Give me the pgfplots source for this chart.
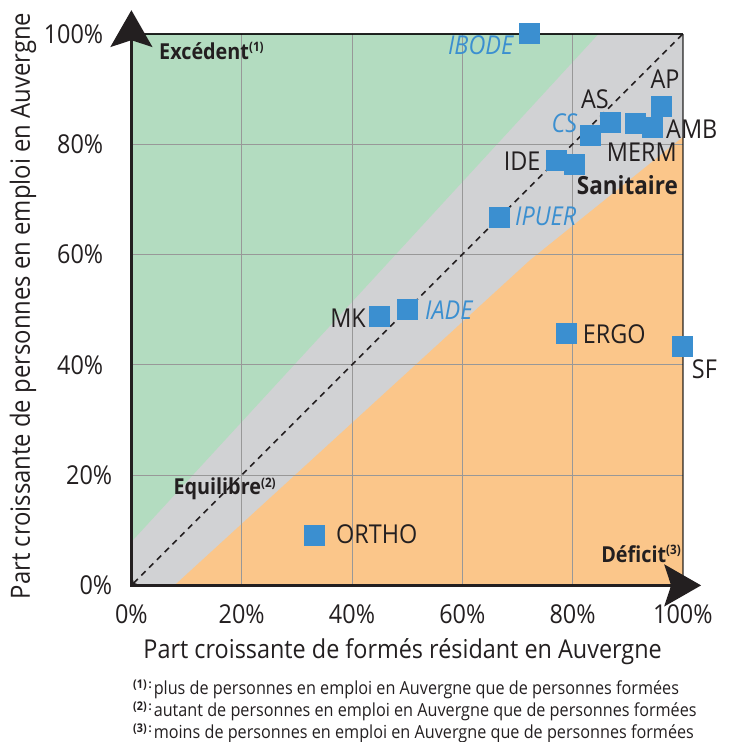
\documentclass[border=0pt]{standalone}
\usepackage{fontspec}
\setmainfont{Open Sans}[FakeStretch=0.9]
\usepackage{pgfplots}
\pgfplotsset{compat=1.18}
\usetikzlibrary{arrows.meta}
\definecolor{cgreen}{RGB}{179,220,192}
\definecolor{cgray}{RGB}{209,210,212}
\definecolor{corange}{RGB}{251,198,138}
\definecolor{cblue}{RGB}{59,143,208}
\definecolor{cgridc}{RGB}{152,152,152}
\definecolor{ctext}{RGB}{35,31,32}
\newcommand\fsz[1]{\fontsize{#1bp}{#1bp}\selectfont}
\begin{document}
\begin{tikzpicture}
\useasboundingbox (-131.4bp,-156.6bp) rectangle (597.6bp,585.4bp);
\begin{axis}[
  at={(0,0)}, anchor=south west,
  scale only axis, width=551.5bp, height=551.5bp,
  xmin=0, xmax=100, ymin=0, ymax=100,
  clip=false,
  axis line style={draw=none},
  major tick length=0pt, tick style={draw=none},
  xtick={0,20,40,60,80,100}, ytick={0,20,40,60,80,100},
  xticklabels={0\%,20\%,40\%,60\%,80\%,100\%},
  yticklabels={0\%\kern-9bp,20\%\kern-9bp,40\%,60\%,80\%,100\%},
  tick label style={font=\fsz{26}, text=ctext, inner sep=0pt},
  xticklabel style={anchor=center, yshift=-28.6bp},
  yticklabel style={anchor=east, xshift=-28bp},
]
% background regions
\addplot[draw=none, fill=cgray] coordinates {(0,0) (100,0) (100,100) (0,100)} -- cycle;
\addplot[draw=none, fill=cgreen] coordinates {(0,7.9) (84.7,100) (0,100)} -- cycle;
\addplot[draw=none, fill=corange] coordinates {(7.8,0) (72.3,59) (100,81.3) (100,0)} -- cycle;
% grid
\pgfplotsinvokeforeach{20,40,60,80}{
  \draw[cgridc, line width=1bp] (axis cs:#1,0) -- (axis cs:#1,100);
  \draw[cgridc, line width=1bp] (axis cs:0,#1) -- (axis cs:100,#1);
}
% frame top/right
\draw[black, opacity=0.85, line width=1.3bp] (axis cs:0,100) -- (axis cs:100,100);
\draw[black, opacity=0.55, line width=1.5bp] (axis cs:100,100) -- (axis cs:100,0);
% diagonal
\addplot[ctext, line width=1.6bp, dash pattern=on 6bp off 5bp, {Stealth[length=5bp,width=5bp]}-] coordinates {(0,0) (100,100)};
% axes with arrows
\draw[ctext, line width=3.5bp, {Stealth[length=36.7bp,width=41.7bp,inset=6.7bp]}-{Stealth[length=36.7bp,width=41.7bp,inset=6.7bp]}]
  (axis cs:103.3,0) -- (axis cs:0,0) -- (axis cs:0,104.3);
% points
\addplot[only marks, color=cblue, mark=square*, mark size=10bp, mark options={fill=cblue, draw=cblue, line width=0pt}] coordinates {
  (72.1,100.0) % IBODE
  (96.2,86.9)  % AP
  (86.8,84.0)  % AS
  (83.2,81.5)  % CS
  (91.4,83.7)  % MERM
  (94.5,83.1)  % AMB
  (77.1,77.1)  % IDE
  (80.4,76.3)  % Sanitaire
  (66.7,66.7)  % IPUER
  (44.9,48.7)  % MK
  (50.0,50.1)  % IADE
  (78.9,45.7)  % ERGO
  (100.0,43.4) % SF
  (33.2,9.1)   % ORTHO
};
\end{axis}
% point labels
\begin{scope}[every node/.style={inner sep=0pt, font=\fsz{26}, text=ctext}]
\node[anchor=east, text=cblue, font=\fsz{26}\itshape] at (381.9bp,540.1bp) {IBODE};
\node[anchor=center] at (533.6bp,506.4bp) {AP};
\node[anchor=center] at (463.6bp,485.7bp) {AS};
\node[anchor=east, text=cblue, font=\fsz{26}\itshape] at (445.9bp,462.4bp) {CS};
\node[anchor=east] at (409.3bp,424.1bp) {IDE};
\node[anchor=west] at (475.3bp,433.1bp) {MERM};
\node[anchor=west] at (534.6bp,456.1bp) {AMB};
\node[anchor=west, font=\fsz{25}\bfseries] at (445.3bp,400.4bp) {Sanitaire};
\node[anchor=west, text=cblue, font=\fsz{26}\itshape] at (383.6bp,368.7bp) {IPUER};
\node[anchor=east] at (234.6bp,267.4bp) {MK};
\node[anchor=west, text=cblue, font=\fsz{26}\itshape] at (293.6bp,275.4bp) {IADE};
\node[anchor=west] at (451.3bp,250.7bp) {ERGO};
\node[anchor=west] at (560.3bp,216.4bp) {SF};
\node[anchor=west] at (204.6bp,50.7bp) {ORTHO};
% zone annotations
\node[anchor=base west, font=\fsz{22}\bfseries] at (27.6bp,526.1bp) {Excédent\raisebox{7.5bp}{\fsz{13}(1)}};
\node[anchor=base west, font=\fsz{22}\bfseries] at (41.9bp,90.4bp) {Equilibre\raisebox{7.5bp}{\fsz{13}(2)}};
\node[anchor=base east, font=\fsz{22}\bfseries] at (549.6bp,23.4bp) {Déficit\raisebox{7.5bp}{\fsz{13}(3)}};
% axis titles
\node[anchor=base west] at (11.9bp,-73.2bp) {Part croissante de formés résidant en Auvergne};
\node[anchor=base, rotate=90] at (-101.4bp,279.4bp) {\fsz{26.5}Part croissante de personnes en emploi en Auvergne};
% footnotes
\node[anchor=base west, font=\fsz{18}] at (1.6bp,-108.6bp) {\raisebox{6bp}{\fsz{12}\bfseries(1)\,:}\hspace{2bp}plus de personnes en emploi en Auvergne que de personnes formées};
\node[anchor=base west, font=\fsz{18}] at (1.6bp,-130.6bp) {\raisebox{6bp}{\fsz{12}\bfseries(2)\,:}\hspace{2bp}autant de personnes en emploi en Auvergne que de personnes formées};
\node[anchor=base west, font=\fsz{18}] at (1.6bp,-152.6bp) {\raisebox{6bp}{\fsz{12}\bfseries(3)\,:}\hspace{2bp}moins de personnes en emploi en Auvergne que de personnes formées};
\end{scope}
\end{tikzpicture}
\end{document}
